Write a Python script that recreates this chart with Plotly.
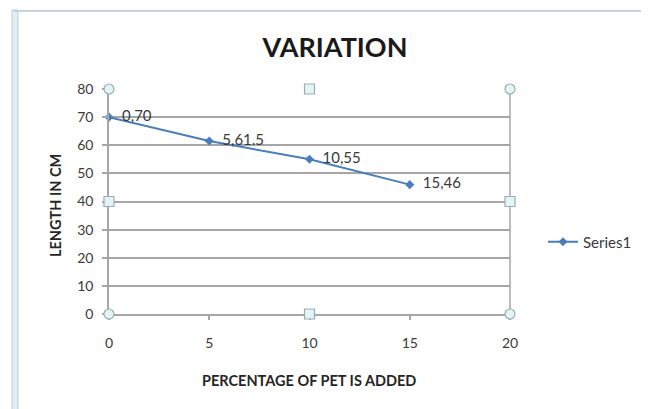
import plotly.graph_objects as go

# Data
pet_percent = [0, 5, 10, 15]
length_cm = [70, 61.5, 55, 46]
series_name = "Series1"
title_text = "VARIATION"
x_title = "PERCENTAGE OF PET IS ADDED"
y_title = "LENGTH IN CM"
x_ticks = [0, 5, 10, 15, 20]
y_ticks = [0, 10, 20, 30, 40, 50, 60, 70, 80]

OFF = 8  # page body margin
W, H = 649 - OFF, 409 - OFF
# plot area in page pixels: x 109..510, y 89..314
L = 109 - OFF
T = 89 - OFF
R = 649 - 510
B = 409 - 314
PW = W - L - R
PH = H - T - B

def px(xp):
    return (xp - OFF - L) / PW

def py(yp):
    return (H - B - (yp - OFF)) / PH

FONT = "Lato, 'Open Sans', sans-serif"
GRID = "#a6a6a6"
BLUE = "#4a7ebb"
TXT = "#3a3a3a"

labels = [f"  {x},{y:g}" for x, y in zip(pet_percent, length_cm)]

fig = go.Figure()
fig.add_trace(go.Scatter(
    x=pet_percent, y=length_cm, name=series_name,
    mode="lines+markers+text",
    text=labels, textposition="middle right",
    textfont=dict(family=FONT, size=15, color=TXT),
    line=dict(color=BLUE, width=2),
    marker=dict(symbol="diamond", size=7, color=BLUE),
    cliponaxis=False,
))

shapes = []
# chart frame (selection border)
shapes.append(dict(type="rect", xref="paper", yref="paper",
                   x0=px(12), x1=px(18), y0=py(420), y1=py(10),
                   fillcolor="#dff0f2", line=dict(color="#b8d0d4", width=1), layer="below"))
shapes.append(dict(type="line", xref="paper", yref="paper",
                   x0=px(14), x1=px(660), y0=py(11), y1=py(11),
                   line=dict(color="#c4d6d8", width=2), layer="below"))
# right plot border
shapes.append(dict(type="line", xref="paper", yref="paper",
                   x0=1, x1=1, y0=0, y1=1, line=dict(color=GRID, width=1.5), layer="below"))

# selection handles
def handle(xa, ya, kind):
    shapes.append(dict(type=kind, xref="paper", yref="paper",
                       xsizemode="pixel", ysizemode="pixel",
                       xanchor=xa, yanchor=ya, x0=-5, x1=5, y0=-5, y1=5,
                       fillcolor="#e4f4f6", line=dict(color="#9aaeb2", width=1.2)))

for xa, ya in [(0, 0), (0, 1), (1, 0), (1, 1)]:
    handle(xa, ya, "circle")
for xa, ya in [(0.5, 0), (0.5, 1), (0, 0.5), (1, 0.5)]:
    handle(xa, ya, "rect")

annotations = [
    dict(text=f"<b>{x_title}</b>", xref="paper", yref="paper",
         x=px(309), y=py(380), xanchor="center", yanchor="middle", showarrow=False,
         font=dict(family=FONT, size=14.5, color="#262626")),
    dict(text=f"<b>{y_title}</b>", xref="paper", yref="paper",
         x=px(55), y=py(206), xanchor="center", yanchor="middle", showarrow=False,
         textangle=-90,
         font=dict(family=FONT, size=14.5, color="#262626")),
]

fig.update_layout(
    width=W, height=H,
    margin=dict(l=L, r=R, t=T, b=B),
    paper_bgcolor="white", plot_bgcolor="white",
    title=dict(text=f"<b>{title_text}</b>", x=(335 - OFF) / W, xanchor="center",
               y=1 - (48 - OFF) / H, yanchor="middle",
               font=dict(family=FONT, size=27, color="#1a1a1a")),
    font=dict(family=FONT, size=14, color=TXT),
    xaxis=dict(range=[0, 20], tickvals=x_ticks, showgrid=False,
               showline=True, linecolor=GRID, linewidth=1.5,
               ticks="outside", ticklen=4, tickcolor=GRID, tickwidth=1.5,
               ticklabelstandoff=11,
               zeroline=False, fixedrange=True,
               tickfont=dict(family=FONT, size=14, color=TXT)),
    yaxis=dict(range=[0, 80], tickvals=y_ticks, showgrid=True,
               gridcolor=GRID, gridwidth=1.5,
               showline=True, linecolor=GRID, linewidth=1.5,
               ticks="outside", ticklen=5, tickcolor=GRID, tickwidth=1.5,
               ticklabelstandoff=6,
               zeroline=False, fixedrange=True,
               tickfont=dict(family=FONT, size=14, color=TXT)),
    legend=dict(x=px(543), y=py(242), xanchor="left", yanchor="middle",
                font=dict(family=FONT, size=15, color=TXT),
                bgcolor="rgba(0,0,0,0)", itemwidth=30),
    showlegend=True,
    shapes=shapes,
    annotations=annotations,
)

fig.write_html("out.html")
